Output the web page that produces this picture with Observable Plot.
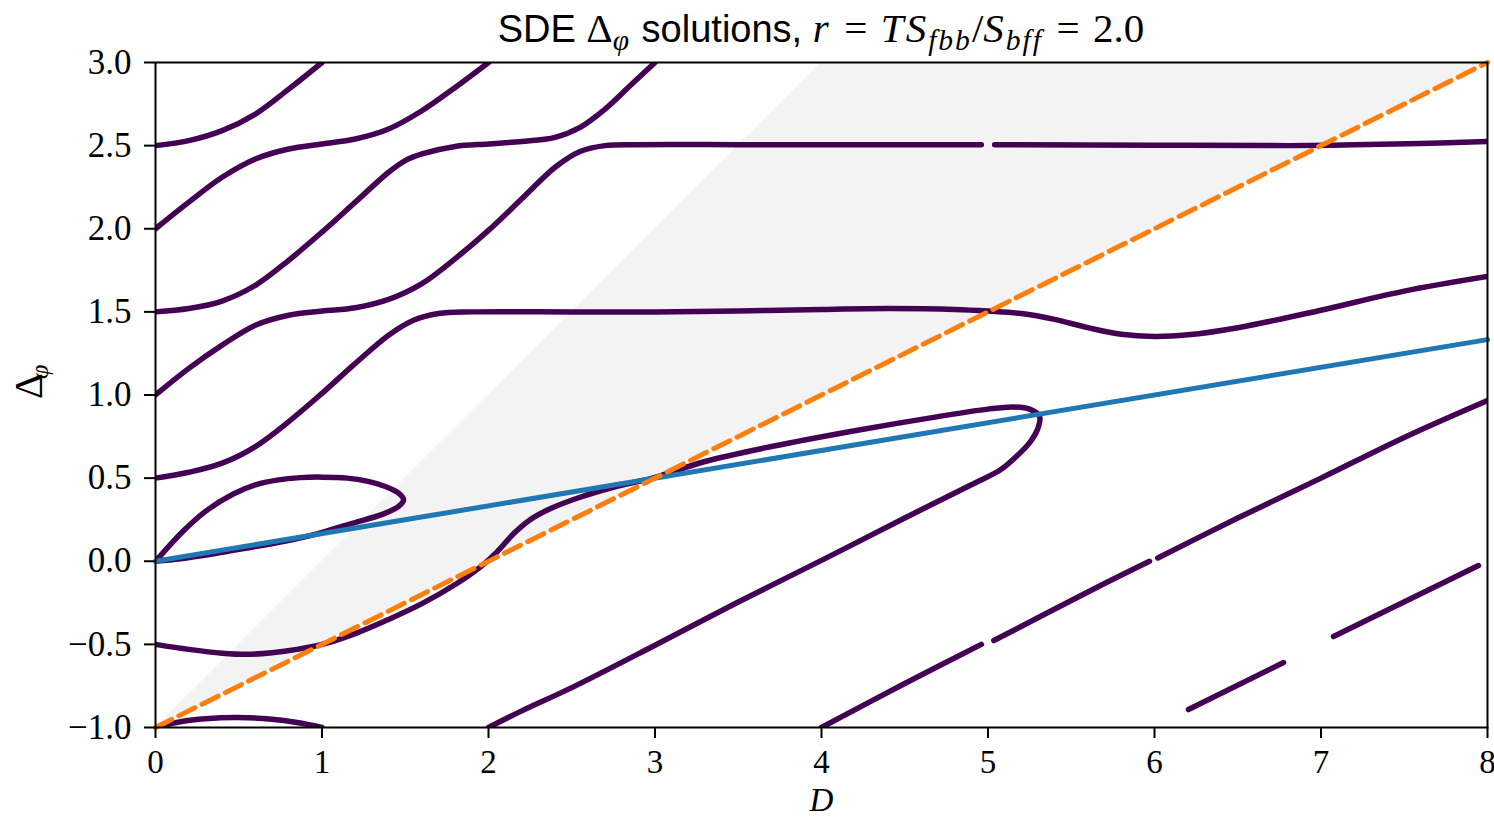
<!DOCTYPE html>
<html><head><meta charset="utf-8">
<script src="https://cdn.jsdelivr.net/npm/d3@7"></script>
<script src="https://cdn.jsdelivr.net/npm/@observablehq/plot@0.6"></script>
<style>
body{margin:0;background:#fff;}
#title{position:relative;height:55px;width:1494px;}
#title .t{position:absolute;left:155px;width:1332px;top:8px;text-align:center;white-space:nowrap;font-size:38px;line-height:40px;color:#000;}
.sf{font-family:"Liberation Sans",sans-serif;}
.m{font-family:"Liberation Serif",serif;font-size:41px;}
.m i{letter-spacing:2px;}
.sub{position:relative;top:0.28em;font-size:0.72em;}
.eq{padding:0 0.08em;}
</style></head>
<body>
<div id="title"><div class="t"><span class="sf">SDE </span><span class="m">Δ<span class="sub"><i>φ</i></span></span><span class="sf"> solutions, </span><span class="m"><i>r</i> <span class="eq">=</span> <i>TS</i><span class="sub"><i>fbb</i></span>/<i>S</i><span class="sub"><i>bff</i></span> <span class="eq">=</span> 2.0</span></div></div>
<div id="chart"></div>
<script>
// ---- data (D, Δφ) ----
const xTicks = [0,1,2,3,4,5,6,7,8];
const yTicks = [-1.0,-0.5,0.0,0.5,1.0,1.5,2.0,2.5,3.0];

const curve_2p5 = [[0,2.5],[0.2,2.53],[0.4,2.59],[0.6,2.69],[0.8,2.84],[1.0,3.0]];
const curve_2p0 = [[0,2.0],[0.2,2.16],[0.4,2.31],[0.6,2.42],[0.8,2.48],[1.0,2.51],[1.2,2.54],[1.4,2.6],[1.6,2.71],[1.8,2.85],[2.0,3.0]];
const curve_1p5 = [[0,1.5],[0.2,1.52],[0.4,1.565],[0.6,1.66],[0.8,1.81],[1.0,1.98],[1.2,2.16],[1.4,2.34],[1.5,2.41],[1.6,2.45],[1.8,2.495],[2.0,2.51],[2.2,2.525],[2.4,2.55],[2.55,2.61],[2.7,2.72],[2.85,2.86],[3.0,3.0]];
const curve_1p0a = [[0,1.0],[0.2,1.16],[0.4,1.3],[0.6,1.42],[0.8,1.48],[1.0,1.505],[1.2,1.525],[1.4,1.575],[1.6,1.67],[1.8,1.82],[2.0,1.99],[2.2,2.18],[2.4,2.37],[2.55,2.465],[2.7,2.5],[2.9,2.506],[3.5,2.506],[4.2,2.505],[4.96,2.505]];
const curve_1p0b = [[5.04,2.505],[6.0,2.503],[6.8,2.5],[7.2,2.505],[7.6,2.513],[8.0,2.525]];
const curve_0p5 = [[0,0.5],[0.2,0.535],[0.4,0.59],[0.6,0.69],[0.8,0.84],[1.0,1.01],[1.2,1.19],[1.4,1.36],[1.55,1.45],[1.7,1.49],[1.9,1.5],[2.5,1.5],[3.0,1.5],[3.5,1.505],[4.0,1.515],[4.4,1.52],[4.8,1.515],[5.0,1.505],[5.2,1.49],[5.4,1.455],[5.6,1.405],[5.8,1.365],[6.0,1.352],[6.2,1.362],[6.5,1.405],[7.0,1.51],[7.5,1.625],[8.0,1.713]];
const loop_0 = [[0,0],[0.08,0.09],[0.17,0.185],[0.3,0.3],[0.47,0.406],[0.6,0.46],[0.73,0.488],[0.87,0.503],[1.0,0.506],[1.15,0.5],[1.27,0.482],[1.38,0.45],[1.46,0.41],[1.49,0.37],[1.46,0.33],[1.37,0.285],[1.17,0.225],[0.97,0.165],[0.75,0.115],[0.57,0.083],[0.35,0.045],[0.15,0.015],[0,0]];
const curve_m0p5 = [[0,-0.5],[0.2,-0.53],[0.4,-0.553],[0.55,-0.56],[0.7,-0.55],[0.85,-0.53],[1.0,-0.5],[1.2,-0.435],[1.4,-0.35],[1.6,-0.255],[1.8,-0.14],[1.95,-0.035],[2.05,0.055],[2.15,0.165],[2.25,0.25],[2.38,0.32],[2.55,0.385],[2.75,0.445],[3.0,0.505],[3.3,0.6],[3.7,0.69],[4.2,0.785],[4.7,0.87],[5.0,0.915],[5.15,0.928],[5.25,0.915],[5.31,0.87],[5.3,0.8],[5.255,0.72],[5.17,0.63],[5.075,0.55],[4.9,0.46],[4.5,0.26],[4.0,0.005],[3.5,-0.245],[3.0,-0.505],[2.5,-0.76],[2.2,-0.9],[2.0,-1.0]];
const curve_m1 = [[0,-1],[0.15,-0.965],[0.3,-0.947],[0.5,-0.94],[0.7,-0.95],[0.85,-0.97],[1.0,-1.0]];
const line4_a = [[4.0,-1.0],[4.5,-0.735],[4.96,-0.5]];
const line4_b = [[5.035,-0.477],[5.676,-0.146],[5.97,0.0]];
const line4_c = [[6.02,0.02],[6.5,0.26],[7.0,0.5],[7.5,0.745],[8.0,0.967]];
const line6_a = [[6.204,-0.892],[6.775,-0.609]];
const line6_b = [[7.075,-0.453],[7.946,-0.026]];

const blueLine = [[0,0],[8,1.333]];
const orangeLine = [[0,-1],[8,3]];

const shadeD = [0,4,8];
const shadeLow = [-1,1,3];
const shadeHigh = [-1,3,3];

// ---- tables for Plot ----
const purpleSegments = [curve_2p5,curve_2p0,curve_1p5,curve_1p0a,curve_1p0b,curve_0p5,loop_0,curve_m0p5,curve_m1,line4_a,line4_b,line4_c,line6_a,line6_b];
const purpleRows = purpleSegments.flatMap((pts,i)=>pts.map(([D,y])=>({seg:i,D,y})));
const toRows = pts => pts.map(([D,y])=>({D,y}));
const shade = shadeD.map((D,i)=>({D, lo:shadeLow[i], hi:shadeHigh[i]}));
const fmtY = d => d.toFixed(1).replace("-", "\u2212");

const chart = Plot.plot({
  width:1494, height:765,
  marginTop:7, marginLeft:155, marginRight:7, marginBottom:93,
  x:{domain:[0,8]},
  y:{domain:[-1,3]},
  style:{fontFamily:"Liberation Serif", fontSize:"35px", color:"black", background:"white", overflow:"visible"},
  marks:[
    Plot.areaY(shade, {x:"D", y1:"lo", y2:"hi", fill:"#f3f3f3"}),
    Plot.line(purpleRows, {x:"D", y:"y", z:"seg", stroke:"#440154", strokeWidth:5.5, curve:"catmull-rom", strokeLinecap:"round", strokeLinejoin:"round", clip:true}),
    Plot.line(toRows(blueLine), {x:"D", y:"y", stroke:"#1f77b4", strokeWidth:5}),
    Plot.line(toRows(orangeLine), {x:"D", y:"y", stroke:"#ff7f0e", strokeWidth:5, strokeDasharray:"18,8"}),
    Plot.frame({stroke:"black", strokeWidth:2}),
    Plot.axisX({ticks:xTicks, tickFormat:d=>String(d), tickSize:11, tickPadding:11, strokeWidth:2, fontSize:33, label:null}),
    Plot.axisY({ticks:yTicks, tickFormat:fmtY, tickSize:11, tickPadding:13, strokeWidth:2, fontSize:35, label:null}),
    Plot.text(["D"], {frameAnchor:"bottom", dy:83, fontStyle:"italic", fontSize:33, text:d=>d}),
    Plot.text(["Δ"], {frameAnchor:"left", rotate:-90, dx:-126, dy:4, fontSize:40, text:d=>d}),
    Plot.text(["φ"], {frameAnchor:"left", rotate:-90, dx:-116, dy:-16, fontSize:26, fontStyle:"italic", text:d=>d})
  ]
});
document.getElementById("chart").appendChild(chart);
</script>
</body></html>
